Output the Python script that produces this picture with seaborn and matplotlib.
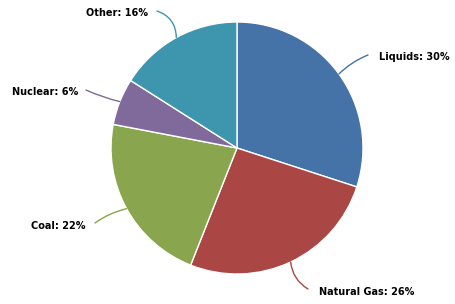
import numpy as np
import matplotlib
matplotlib.use("Agg")
import matplotlib.pyplot as plt
import seaborn as sns

categories = ["Liquids", "Natural Gas", "Coal", "Nuclear", "Other"]
shares = [30, 26, 22, 6, 16]
colors = ["#4572A7", "#AA4643", "#89A54E", "#80699B", "#3D96AE"]

sns.set_theme(style="white")
plt.rcParams['font.family'] = ['DejaVu Sans']

W, H = 455, 304
fig = plt.figure(figsize=(W / 100, H / 100), dpi=100)
ax = fig.add_axes([0, 0, 1, 1])

cx, cy, r = 237, H - 148, 126
wedges, _ = ax.pie(shares, colors=colors, startangle=90, counterclock=False,
                   center=(cx, cy), radius=r, frame=True,
                   wedgeprops=dict(edgecolor='white', linewidth=1))
ax.set_xlim(0, W)
ax.set_ylim(0, H)
ax.set_aspect('equal')
ax.axis('off')

# label layout: (connector start x, y), text x, text y, ha, rad
layout = [
    ((368, 55), 379, 57, 'left', 0.1),
    ((308, 289), 319, 292, 'left', -0.25),
    ((95, 223), 31, 226, 'left', -0.1),
    ((86, 90), 12, 92, 'left', 0.05),
    ((157, 11), 86, 13, 'left', -0.35),
]

for w, cat, val, col, (start, tx, ty, ha, rad) in zip(wedges, categories, shares, colors, layout):
    mid = np.deg2rad((w.theta1 + w.theta2) / 2)
    ex = cx + r * np.cos(mid)
    ey = cy + r * np.sin(mid)
    ax.annotate('', xy=(ex, ey), xytext=(start[0], H - start[1]),
                arrowprops=dict(arrowstyle='-', color=col, lw=1,
                                connectionstyle=f'arc3,rad={rad}',
                                shrinkA=0, shrinkB=0))
    ax.text(tx, H - ty, f"{cat}: {val}%", ha=ha, va='center',
            fontsize=7.0, fontweight='bold', color='black')

fig.savefig("out.png", dpi=100)
